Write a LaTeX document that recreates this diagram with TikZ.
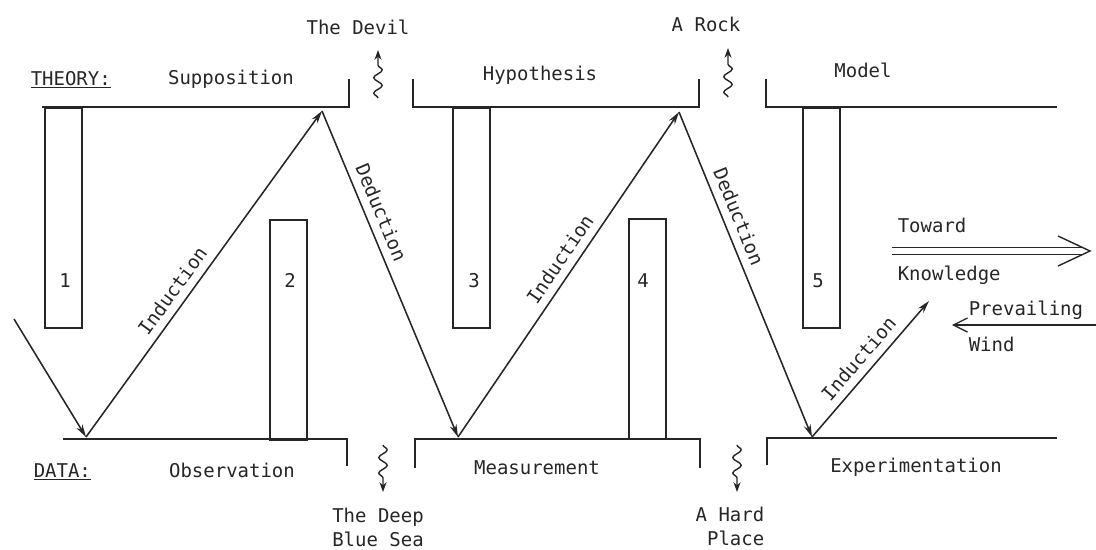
\documentclass[tikz,border=0pt]{standalone}
\usepackage{fontspec}
\setmainfont{DejaVu Sans Mono}
\usetikzlibrary{arrows.meta,decorations.pathmorphing}

\begin{document}
\begin{tikzpicture}[x=0.025cm, y=-0.025cm, line width=1.1pt, color=black!85,
    every node/.style={font=\fontsize{13.5}{17}\selectfont, inner sep=0pt},
    bar/.style={draw, minimum width=0.93cm, minimum height=5.5cm, anchor=north},
    arr/.style={-{Stealth[length=9pt,width=5pt]}},
    lab/.style={sloped, above=5.5pt},
    wiggle/.style={decorate, decoration={snake, amplitude=3pt, segment length=11pt, post length=6pt},
                   -{Stealth[length=7pt,width=5pt]}, line width=1pt}]

\useasboundingbox (0,0) rectangle (1096,549);

% --- Theory and data levels ---
\draw (42,107) -- (349,107) -- (349,79);
\draw (413,79) -- (413,107) -- (699,107) -- (699,79);
\draw (766,79) -- (766,107) -- (1057,107);

\draw (63,439) -- (347,439) -- (347,466);
\draw (415,468) -- (415,439) -- (700,439) -- (700,468);
\draw (767,465) -- (767,438) -- (1057,438);

% --- Bars ---
\foreach \n/\x/\ytop/\nx in {1/63.5/107/65, 2/288.5/219/290, 3/471.5/107/474,
                             4/647.5/218/643, 5/821.5/107/818} {
    \node[bar] (bar\n) at (\x,\ytop) {};
    \node[anchor=base] (num\n) at (\nx,287) {\n};
}

% --- Zigzag ---
\coordinate (start) at (14,319);
\coordinate (d1) at (86,437);
\coordinate (t1) at (322,111);
\coordinate (d2) at (458,437);
\coordinate (t2) at (679,112);
\coordinate (d3) at (812,437);
\coordinate (ktip) at (929,301);

\draw[arr] (start) -- (d1);
\draw[arr] (d1) -- node[lab, pos=0.42] (ind1) {Induction} (t1);
\draw[arr] (t1) -- node[lab, pos=0.33] (ded1) {Deduction} (d2);
\draw[arr] (d2) -- node[lab, pos=0.52] (ind2) {Induction} (t2);
\draw[arr] (t2) -- node[lab, pos=0.34] (ded2) {Deduction} (d3);
\draw[arr] (d3) -- node[lab, pos=0.5] (ind3) {Induction} (ktip);

% --- Level labels ---
\node[anchor=base west] (theory) at (30,85) {\underline{THEORY:}};
\node[anchor=base] (supp) at (231,84) {Supposition};
\node[anchor=base] (hyp) at (540,80) {Hypothesis};
\node[anchor=base] (model) at (863,77) {Model};
\node[anchor=base west] (data) at (33,477) {\underline{DATA:}};
\node[anchor=base] (obsv) at (232,477) {Observation};
\node[anchor=base] (meas) at (537,474) {Measurement};
\node[anchor=base] (expt) at (916,472) {Experimentation};

% --- Hazards ---
\node[anchor=base] (devil) at (358,34) {The Devil};
\node[anchor=base] (rock) at (706,31) {A Rock};
\node[anchor=north, align=center] (sea) at (378,507) {The Deep\\Blue Sea};
\node[anchor=north east, align=right] (hard) at (765,506) {A Hard\\Place};

\coordinate (sq1a) at (378,98);  \coordinate (sq1b) at (378,50);
\coordinate (sq2a) at (728,97);  \coordinate (sq2b) at (728,48);
\coordinate (sq3a) at (383,445); \coordinate (sq3b) at (383,492);
\coordinate (sq4a) at (737,445); \coordinate (sq4b) at (737,492);
\draw[wiggle] (sq1a) -- (sq1b);
\draw[wiggle] (sq2a) -- (sq2b);
\draw[wiggle] (sq3a) -- (sq3b);
\draw[wiggle] (sq4a) -- (sq4b);

% --- Knowledge and wind ---
\node[anchor=base west] (toward) at (897,232) {Toward};
\node[anchor=base west] (know) at (897,280) {Knowledge};
\coordinate (tw1) at (892,251);
\coordinate (tw2) at (1090,251);
\draw[double, double distance=3.8pt, line width=0.8pt] (tw1) -- ([xshift=-6pt]tw2);
\draw[line width=1pt] ([shift={(-32,-15)}]tw2) -- (tw2) -- ([shift={(-32,15)}]tw2);

\node[anchor=base west] (prev) at (968,315) {Prevailing};
\node[anchor=base west] (wind) at (968,351) {Wind};
\coordinate (w1) at (1096,325);
\coordinate (w2) at (952,325);
\draw[-{Straight Barb[length=10pt,width=10pt]}, line width=0.9pt] (w1) -- (w2);

\end{tikzpicture}
\end{document}
